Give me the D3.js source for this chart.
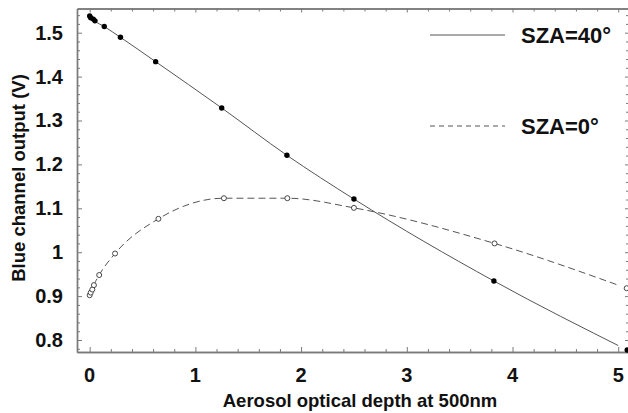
<!DOCTYPE html>
<html><head><meta charset="utf-8">
<script src="https://cdn.jsdelivr.net/npm/d3@7/dist/d3.min.js"></script>
<style>
html,body{margin:0;padding:0;background:#fff;}
text{font-family:"Liberation Sans",Arial,sans-serif;font-weight:bold;fill:#111;}
</style></head>
<body>
<svg id="c" width="628" height="413"></svg>
<script>
// ---- data ----
const aod40 = [0.0, 0.01, 0.034, 0.05, 0.138, 0.291, 0.624, 1.249, 1.866, 2.50, 3.824, 5.085];
const volt40 = [1.538, 1.534, 1.531, 1.527, 1.514, 1.4895, 1.434, 1.3285, 1.2207, 1.1211, 0.9344, 0.7772];
const aod0 = [0.0, 0.01, 0.025, 0.04, 0.09, 0.24, 0.65, 1.27, 1.87, 2.50, 3.83, 5.08];
const volt0 = [0.902, 0.908, 0.915, 0.925, 0.948, 0.997, 1.076, 1.123, 1.123, 1.101, 1.020, 0.918];
const xTicks = [0, 1, 2, 3, 4, 5];
const yTicks = [0.8, 0.9, 1.0, 1.1, 1.2, 1.3, 1.4, 1.5];
const yTickLabels = ["0.8", "0.9", "1", "1.1", "1.2", "1.3", "1.4", "1.5"];
const legendLabels = ["SZA=40°", "SZA=0°"];
const xTitle = "Aerosol optical depth at 500nm";
const yTitle = "Blue channel output (V)";
const lineEnd = 5.0;

// ---- layout ----
const L = 77, R = 629, T = 8.5, B = 352;
const x = d3.scaleLinear().domain([-0.12, 5.102]).range([L, R]);
const y = d3.scaleLinear().domain([0.7727, 1.5551]).range([B, T]);
const svg = d3.select("#c");

const axisColor = "#7a7a7a";
const xMinor = d3.range(0, 5.1, 0.2).filter(v => Math.abs(v - Math.round(v)) > 1e-6);
const yMinor = d3.range(0.78, 1.555, 0.02).filter(v => Math.abs(v * 10 - Math.round(v * 10)) > 1e-6);

function styleAxis(g) {
  g.select(".domain").attr("stroke", axisColor).attr("stroke-width", 1.4);
  g.selectAll(".tick line").attr("stroke", axisColor).attr("stroke-width", 1);
}

// bottom axis (major + minor, inward)
svg.append("g").attr("transform", `translate(0,${B})`)
  .call(d3.axisBottom(x).tickValues(xTicks).tickSize(-5).tickSizeOuter(0).tickFormat(""))
  .call(styleAxis);
svg.append("g").attr("transform", `translate(0,${B})`)
  .call(d3.axisBottom(x).tickValues(xMinor).tickSize(-3).tickSizeOuter(0).tickFormat(""))
  .call(styleAxis);
// top axis
svg.append("g").attr("transform", `translate(0,${T})`)
  .call(d3.axisTop(x).tickValues(xTicks).tickSize(-4).tickSizeOuter(0).tickFormat(""))
  .call(styleAxis);
svg.append("g").attr("transform", `translate(0,${T})`)
  .call(d3.axisTop(x).tickValues(xMinor).tickSize(-3).tickSizeOuter(0).tickFormat(""))
  .call(styleAxis);
// left axis
svg.append("g").attr("transform", `translate(${L},0)`)
  .call(d3.axisLeft(y).tickValues(yTicks).tickSize(-5).tickSizeOuter(0).tickFormat(""))
  .call(styleAxis);
svg.append("g").attr("transform", `translate(${L},0)`)
  .call(d3.axisLeft(y).tickValues(yMinor).tickSize(-3).tickSizeOuter(0).tickFormat(""))
  .call(styleAxis);
// right axis
svg.append("g").attr("transform", `translate(${R},0)`)
  .call(d3.axisRight(y).tickValues(yTicks).tickSize(-4).tickSizeOuter(0).tickFormat(""))
  .call(styleAxis);
svg.append("g").attr("transform", `translate(${R},0)`)
  .call(d3.axisRight(y).tickValues(yMinor).tickSize(-3).tickSizeOuter(0).tickFormat(""))
  .call(styleAxis);

// tick labels
svg.append("g").selectAll("text").data(xTicks).join("text")
  .attr("x", d => x(d)).attr("y", 382)
  .attr("text-anchor", "middle").attr("font-size", 20).text(d => d);
svg.append("g").selectAll("text").data(yTicks).join("text")
  .attr("x", 63).attr("y", d => y(d) + 7)
  .attr("text-anchor", "end").attr("font-size", 20).text((d, i) => yTickLabels[i]);

// titles
svg.append("text").attr("x", 360).attr("y", 407).attr("text-anchor", "middle")
  .attr("font-size", 18.5).text(xTitle);
svg.append("text").attr("transform", "translate(25,178) rotate(-90)")
  .attr("text-anchor", "middle").attr("font-size", 18.5).text(yTitle);

// clip lines at lineEnd
svg.append("clipPath").attr("id", "clipL").append("rect")
  .attr("x", L).attr("y", T).attr("width", x(lineEnd) - L).attr("height", B - T);

const s40 = aod40.map((a, i) => [a, volt40[i]]);
const s0 = aod0.map((a, i) => [a, volt0[i]]);
const line = d3.line().x(d => x(d[0])).y(d => y(d[1])).curve(d3.curveMonotoneX);
const lineColor = "#555";

svg.append("path").attr("clip-path", "url(#clipL)").attr("d", line(s40))
  .attr("fill", "none").attr("stroke", lineColor).attr("stroke-width", 1);
svg.append("path").attr("clip-path", "url(#clipL)").attr("d", line(s0))
  .attr("fill", "none").attr("stroke", lineColor).attr("stroke-width", 1)
  .attr("stroke-dasharray", "7,4");

// markers
svg.append("g").selectAll("circle").data(s0).join("circle")
  .attr("cx", d => x(d[0])).attr("cy", d => y(d[1])).attr("r", 2.5)
  .attr("fill", "#fff").attr("stroke", "#333").attr("stroke-width", 0.9);
svg.append("g").selectAll("circle").data(s40).join("circle")
  .attr("cx", d => x(d[0])).attr("cy", d => y(d[1])).attr("r", 2.7)
  .attr("fill", "#000");

// legend
const leg = svg.append("g");
const legY = [35, 126];
leg.selectAll("line").data(legendLabels).join("line")
  .attr("x1", 430).attr("x2", 505).attr("y1", (d, i) => legY[i]).attr("y2", (d, i) => legY[i])
  .attr("stroke", lineColor).attr("stroke-width", 1)
  .attr("stroke-dasharray", (d, i) => i === 1 ? "5,4" : null);
leg.selectAll("text").data(legendLabels).join("text")
  .attr("x", 521).attr("y", (d, i) => legY[i] + 8)
  .attr("font-size", 22).text(d => d);
</script>
</body></html>
